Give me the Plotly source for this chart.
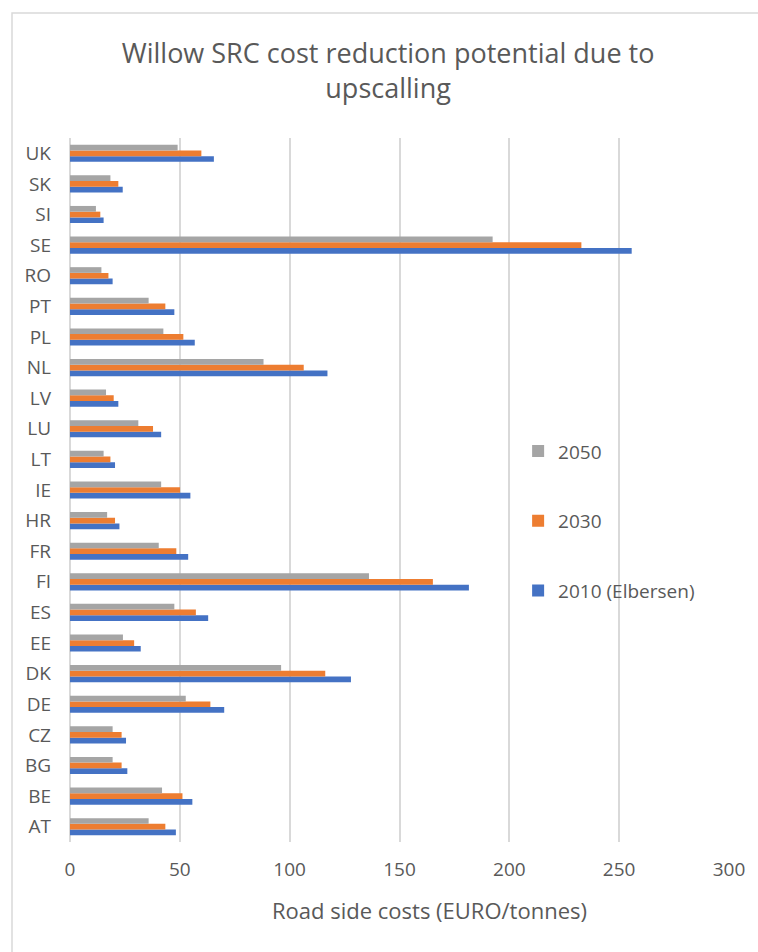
import plotly.graph_objects as go

# Countries, bottom to top on the category axis
countries = ["AT", "BE", "BG", "CZ", "DE", "DK", "EE", "ES", "FI", "FR", "HR", "IE",
             "LT", "LU", "LV", "NL", "PL", "PT", "RO", "SE", "SI", "SK", "UK"]

# Road side costs (EURO/tonnes)
cost_2010 = [48.2, 55.7, 26.1, 25.5, 70.2, 127.9, 32.2, 62.9, 181.6, 53.8, 22.5, 54.8,
             20.5, 41.5, 22.0, 117.2, 56.8, 47.5, 19.4, 255.7, 15.3, 24.0, 65.5]
cost_2030 = [43.4, 51.2, 23.5, 23.5, 63.9, 116.2, 29.2, 57.3, 165.2, 48.4, 20.5, 50.1,
             18.4, 37.8, 19.9, 106.4, 51.6, 43.4, 17.5, 232.8, 13.8, 22.0, 59.8]
cost_2050 = [35.8, 41.9, 19.4, 19.4, 52.7, 96.1, 24.1, 47.5, 136.1, 40.4, 16.9, 41.5,
             15.3, 31.1, 16.4, 88.1, 42.5, 35.8, 14.3, 192.4, 11.8, 18.4, 49.0]

series_names = ["2010 (Elbersen)", "2030", "2050"]
series_values = [cost_2010, cost_2030, cost_2050]
series_colors = ["#4472C4", "#ED7D31", "#A5A5A5"]
legend_ranks = [3, 2, 1]

x_ticks = [0, 50, 100, 150, 200, 250, 300]

TEXT = "#595959"
GRID = "#d9d9d9"
FONT = "Open Sans"

fig = go.Figure()
for name, vals, col, rank in zip(series_names, series_values, series_colors, legend_ranks):
    fig.add_trace(go.Bar(
        y=countries, x=vals, name=name, orientation="h",
        marker=dict(color=col, line=dict(width=0)),
        legendgroup=name, legendrank=rank,
    ))

fig.update_layout(
    width=758, height=952,
    margin=dict(l=70, r=29, t=138, b=110),
    paper_bgcolor="white", plot_bgcolor="white",
    barmode="group", bargap=0.44, bargroupgap=0,
    font=dict(family=FONT, color=TEXT, size=19),
    title=dict(
        text="Willow SRC cost reduction potential due to<br>upscalling",
        x=0.512, xanchor="center", y=0.934, yanchor="top",
        font=dict(family=FONT, size=27, color=TEXT),
    ),
    legend=dict(
        x=0.68, xanchor="left", y=0.582, yanchor="top",
        traceorder="grouped", tracegroupgap=42,
        font=dict(family=FONT, size=19, color=TEXT),
        bgcolor="rgba(0,0,0,0)",
    ),
    xaxis=dict(
        range=[0, 300], tickvals=x_ticks, showgrid=True, gridcolor=GRID, gridwidth=1.5,
        zeroline=True, zerolinecolor=GRID, zerolinewidth=1.5, showline=False,
        ticks="", ticklabelstandoff=14,
        tickfont=dict(family=FONT, size=19, color=TEXT),
    ),
    yaxis=dict(
        categoryorder="array", categoryarray=countries,
        showgrid=False, zeroline=False, showline=False, ticks="",
        ticklabelstandoff=18,
        tickfont=dict(family=FONT, size=19, color=TEXT),
    ),
    annotations=[dict(
        text="Road side costs (EURO/tonnes)", xref="paper", yref="paper",
        x=0.545, y=-0.097, xanchor="center", yanchor="middle", showarrow=False,
        font=dict(family=FONT, size=22, color=TEXT),
    )],
    shapes=[dict(
        type="rect", xref="paper", yref="paper",
        x0=-0.088, x1=1.2, y0=-0.3, y1=1.1776,
        line=dict(color=GRID, width=1.5), fillcolor="rgba(0,0,0,0)", layer="below",
    )],
)

fig.write_html("out.html")
